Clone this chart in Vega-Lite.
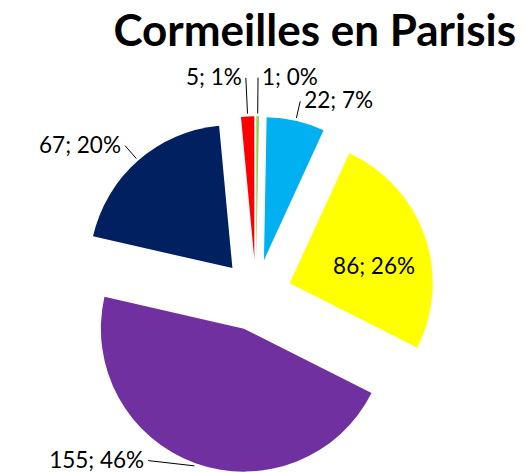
{
  "$schema": "https://vega.github.io/schema/vega-lite/v6.json",
  "width": 526,
  "height": 420,
  "autosize": {"type": "none"},
  "padding": {"top": 52, "left": 0, "right": 0, "bottom": 0},
  "background": "white",
  "title": {"text": "Cormeilles en Parisis", "font": "Lato", "fontSize": 44, "fontWeight": "bold", "color": "black", "anchor": "end", "dx": -10, "offset": 0, "dy": 3},
  "config": {"view": {"stroke": null}},
  "data": {"values": [
    {"parti": "vert", "voix": 1},
    {"parti": "bleu clair", "voix": 22},
    {"parti": "jaune", "voix": 86},
    {"parti": "violet", "voix": 155},
    {"parti": "bleu marine", "voix": 67},
    {"parti": "rouge", "voix": 5}
  ]},
  "transform": [
    {"joinaggregate": [{"op": "sum", "field": "voix", "as": "total"}]},
    {"window": [{"op": "sum", "field": "voix", "as": "cumul"}], "frame": [null, 0]},
    {"calculate": "datum.cumul / datum.total", "as": "fin"},
    {"calculate": "(datum.cumul - datum.voix) / datum.total", "as": "debut"},
    {"calculate": "PI * (datum.debut + datum.fin)", "as": "mid"},
    {"calculate": "sin(datum.mid)", "as": "ux"},
    {"calculate": "cos(datum.mid)", "as": "uy"},
    {"calculate": "0.25 * datum.ux", "as": "cx"},
    {"calculate": "0.25 * datum.uy", "as": "cy"},
    {"calculate": "datum.voix + '; ' + format(datum.voix / datum.total, '.0%')", "as": "etiquette"},
    {"calculate": "datum.ux > 0.8", "as": "dedans"},
    {"calculate": "datum.voix / datum.total < 0.02 ? 1.27 : 1.14", "as": "ra"},
    {"calculate": "datum.dedans ? datum.cy + 0.6 * cos(datum.mid + 0.15) : max(datum.cy + datum.ra * datum.uy, -1.158)", "as": "py"},
    {"calculate": "datum.dedans ? datum.cx + 0.6 * sin(datum.mid + 0.15) : datum.cx + (datum.ux < 0 ? -1 : 1) * sqrt(max(0, datum.ra * datum.ra - (datum.py - datum.cy) * (datum.py - datum.cy)))", "as": "px"},
    {"calculate": "datum.cx + 1.02 * datum.ux", "as": "ex"},
    {"calculate": "datum.cy + 1.02 * datum.uy", "as": "ey"}
  ],
  "layer": [
    {
      "mark": {"type": "arc", "radius": 143},
      "encoding": {
        "x": {"field": "cx", "type": "quantitative", "scale": {"domain": [-1.7902, 1.8881], "nice": false, "zero": false}, "axis": null},
        "y": {"field": "cy", "type": "quantitative", "scale": {"domain": [-1.2378, 1.6993], "nice": false, "zero": false}, "axis": null},
        "theta": {"field": "debut", "type": "quantitative", "scale": {"domain": [0, 1], "nice": false}},
        "theta2": {"field": "fin"},
        "color": {"field": "parti", "type": "nominal", "legend": null,
          "scale": {"domain": ["vert", "bleu clair", "jaune", "violet", "bleu marine", "rouge"],
                    "range": ["#92D050", "#00B0F0", "#FFFF00", "#7030A0", "#002060", "#FF0000"]}}
      }
    },
    {
      "transform": [{"filter": "!datum.dedans"}],
      "mark": {"type": "rule", "color": "black", "strokeWidth": 1},
      "encoding": {
        "x": {"field": "ex", "type": "quantitative", "scale": {"domain": [-1.7902, 1.8881], "nice": false, "zero": false}, "axis": null},
        "y": {"field": "ey", "type": "quantitative", "scale": {"domain": [-1.2378, 1.6993], "nice": false, "zero": false}, "axis": null},
        "x2": {"field": "px"},
        "y2": {"field": "py"}
      }
    },
    {
      "transform": [{"filter": "!datum.dedans && datum.ux >= 0"}],
      "mark": {"type": "text", "align": "left", "baseline": "middle", "dx": 4, "font": "Lato", "fontSize": 22.5, "color": "black"},
      "encoding": {
        "x": {"field": "px", "type": "quantitative", "scale": {"domain": [-1.7902, 1.8881], "nice": false, "zero": false}, "axis": null},
        "y": {"field": "py", "type": "quantitative", "scale": {"domain": [-1.2378, 1.6993], "nice": false, "zero": false}, "axis": null},
        "text": {"field": "etiquette"}
      }
    },
    {
      "transform": [{"filter": "!datum.dedans && datum.ux < 0"}],
      "mark": {"type": "text", "align": "right", "baseline": "middle", "dx": -4, "font": "Lato", "fontSize": 22.5, "color": "black"},
      "encoding": {
        "x": {"field": "px", "type": "quantitative", "scale": {"domain": [-1.7902, 1.8881], "nice": false, "zero": false}, "axis": null},
        "y": {"field": "py", "type": "quantitative", "scale": {"domain": [-1.2378, 1.6993], "nice": false, "zero": false}, "axis": null},
        "text": {"field": "etiquette"}
      }
    },
    {
      "transform": [{"filter": "datum.dedans"}],
      "mark": {"type": "text", "align": "center", "baseline": "middle", "font": "Lato", "fontSize": 22.5, "color": "black"},
      "encoding": {
        "x": {"field": "px", "type": "quantitative", "scale": {"domain": [-1.7902, 1.8881], "nice": false, "zero": false}, "axis": null},
        "y": {"field": "py", "type": "quantitative", "scale": {"domain": [-1.2378, 1.6993], "nice": false, "zero": false}, "axis": null},
        "text": {"field": "etiquette"}
      }
    }
  ]
}
